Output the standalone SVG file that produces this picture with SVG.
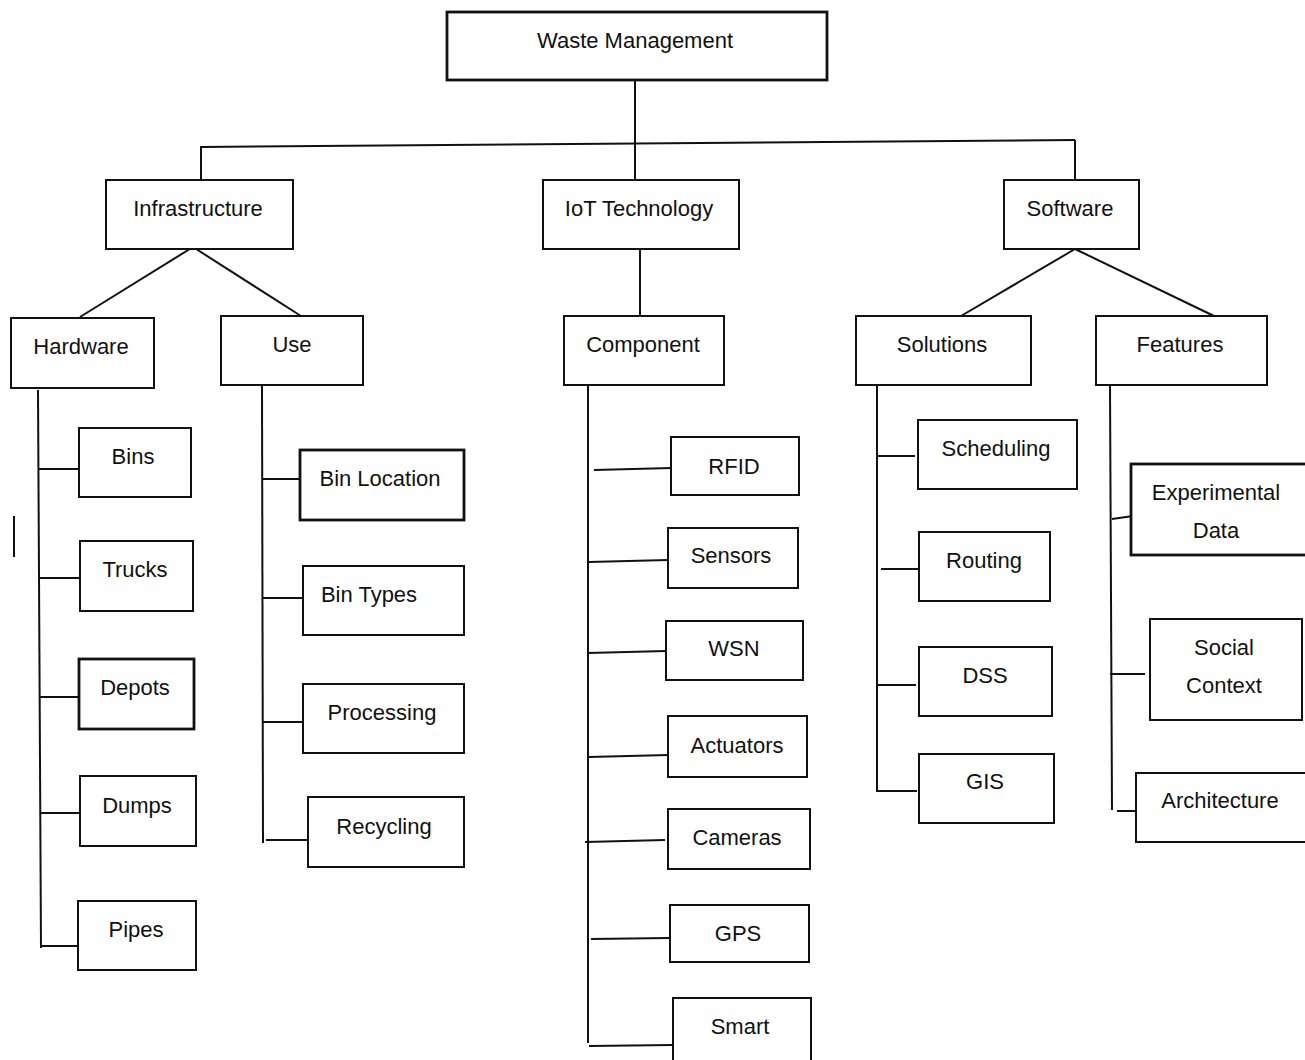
<svg xmlns="http://www.w3.org/2000/svg" width="1305" height="1060" viewBox="0 0 1305 1060">
<style>
.b{fill:#fff;stroke:#111;stroke-width:2}
.bt{fill:#fff;stroke:#111;stroke-width:2.8}
text{font-family:"Liberation Sans",Arial,sans-serif;font-size:22px;fill:#111;text-anchor:middle;dominant-baseline:central}
.c line{stroke:#111;stroke-width:2;fill:none}
</style>
<rect width="1305" height="1060" fill="#fff"/>
<g class="c" id="connectors">
<line x1="635" y1="80" x2="635" y2="145"/>
<line x1="201" y1="147" x2="1075" y2="140"/>
<line x1="201" y1="146" x2="201" y2="180"/>
<line x1="635" y1="145" x2="635" y2="180"/>
<line x1="1075" y1="140" x2="1075" y2="180"/>
<line x1="193" y1="247" x2="80" y2="317"/>
<line x1="193" y1="247" x2="301" y2="316"/>
<line x1="640" y1="249" x2="640" y2="316"/>
<line x1="1075" y1="249" x2="961" y2="316"/>
<line x1="1075" y1="249" x2="1214" y2="316"/>
<line x1="38" y1="390" x2="41" y2="948"/>
<line x1="39" y1="469" x2="79" y2="469"/>
<line x1="39" y1="578" x2="80" y2="578"/>
<line x1="40" y1="697" x2="79" y2="697"/>
<line x1="40" y1="813" x2="80" y2="813"/>
<line x1="41" y1="946" x2="80" y2="946"/>
<line x1="14" y1="516" x2="14" y2="557"/>
<line x1="262" y1="385" x2="263" y2="843"/>
<line x1="262" y1="479" x2="300" y2="479"/>
<line x1="263" y1="598" x2="304" y2="598"/>
<line x1="263" y1="722" x2="303" y2="722"/>
<line x1="266" y1="840" x2="308" y2="840"/>
<line x1="588" y1="385" x2="588" y2="1043"/>
<line x1="594" y1="470" x2="672" y2="468"/>
<line x1="589" y1="562" x2="668" y2="560"/>
<line x1="588" y1="653" x2="666" y2="651"/>
<line x1="589" y1="757" x2="668" y2="755"/>
<line x1="585" y1="842" x2="665" y2="840"/>
<line x1="591" y1="939" x2="670" y2="938"/>
<line x1="589" y1="1046" x2="672" y2="1045"/>
<line x1="877" y1="385" x2="877" y2="792"/>
<line x1="877" y1="456" x2="915" y2="456"/>
<line x1="881" y1="569" x2="919" y2="569"/>
<line x1="877" y1="685" x2="916" y2="685"/>
<line x1="877" y1="791" x2="917" y2="791"/>
<line x1="1110" y1="385" x2="1112" y2="810"/>
<line x1="1112" y1="519" x2="1133" y2="516"/>
<line x1="1110" y1="674" x2="1145" y2="674"/>
<line x1="1117" y1="811" x2="1136" y2="811"/>
</g>
<g id="n-root"><rect class="bt" x="447" y="12" width="380" height="68"/><text x="635" y="40">Waste Management</text></g>
<g id="n-infra"><rect class="b" x="106" y="180" width="187" height="69"/><text x="198" y="208">Infrastructure</text></g>
<g id="n-iot"><rect class="b" x="543" y="180" width="196" height="69"/><text x="639" y="208">IoT Technology</text></g>
<g id="n-software"><rect class="b" x="1004" y="180" width="135" height="69"/><text x="1070" y="208">Software</text></g>
<g id="n-hardware"><rect class="b" x="11" y="318" width="143" height="70"/><text x="81" y="346">Hardware</text></g>
<g id="n-use"><rect class="b" x="221" y="316" width="142" height="69"/><text x="292" y="344">Use</text></g>
<g id="n-component"><rect class="b" x="564" y="316" width="160" height="69"/><text x="643" y="344">Component</text></g>
<g id="n-solutions"><rect class="b" x="856" y="316" width="175" height="69"/><text x="942" y="344">Solutions</text></g>
<g id="n-features"><rect class="b" x="1096" y="316" width="171" height="69"/><text x="1180" y="344">Features</text></g>
<g id="n-bins"><rect class="b" x="79" y="428" width="112" height="69"/><text x="133" y="456">Bins</text></g>
<g id="n-trucks"><rect class="b" x="80" y="541" width="113" height="70"/><text x="135" y="569">Trucks</text></g>
<g id="n-depots"><rect class="bt" x="79" y="659" width="115" height="70"/><text x="135" y="687">Depots</text></g>
<g id="n-dumps"><rect class="b" x="80" y="776" width="116" height="70"/><text x="137" y="805">Dumps</text></g>
<g id="n-pipes"><rect class="b" x="78" y="901" width="118" height="69"/><text x="136" y="929">Pipes</text></g>
<g id="n-binloc"><rect class="bt" x="300" y="450" width="164" height="70"/><text x="380" y="478">Bin Location</text></g>
<g id="n-bintypes"><rect class="b" x="303" y="566" width="161" height="69"/><text x="369" y="594">Bin Types</text></g>
<g id="n-processing"><rect class="b" x="303" y="684" width="161" height="69"/><text x="382" y="712">Processing</text></g>
<g id="n-recycling"><rect class="b" x="308" y="797" width="156" height="70"/><text x="384" y="826">Recycling</text></g>
<g id="n-rfid"><rect class="b" x="671" y="437" width="128" height="58"/><text x="734" y="466">RFID</text></g>
<g id="n-sensors"><rect class="b" x="668" y="528" width="130" height="60"/><text x="731" y="555">Sensors</text></g>
<g id="n-wsn"><rect class="b" x="666" y="621" width="137" height="59"/><text x="734" y="648">WSN</text></g>
<g id="n-actuators"><rect class="b" x="668" y="716" width="139" height="61"/><text x="737" y="745">Actuators</text></g>
<g id="n-cameras"><rect class="b" x="668" y="809" width="142" height="60"/><text x="737" y="837">Cameras</text></g>
<g id="n-gps"><rect class="b" x="670" y="905" width="139" height="57"/><text x="738" y="933">GPS</text></g>
<g id="n-smart"><rect class="b" x="673" y="998" width="138" height="66"/><text x="740" y="1026">Smart</text></g>
<g id="n-scheduling"><rect class="b" x="918" y="420" width="159" height="69"/><text x="996" y="448">Scheduling</text></g>
<g id="n-routing"><rect class="b" x="919" y="532" width="131" height="69"/><text x="984" y="560">Routing</text></g>
<g id="n-dss"><rect class="b" x="919" y="647" width="133" height="69"/><text x="985" y="675">DSS</text></g>
<g id="n-gis"><rect class="b" x="919" y="754" width="135" height="69"/><text x="985" y="781">GIS</text></g>
<g id="n-expdata"><rect class="bt" x="1131" y="464" width="176" height="91"/><text x="1216" y="492">Experimental</text><text x="1216" y="530">Data</text></g>
<g id="n-social"><rect class="b" x="1150" y="619" width="152" height="101"/><text x="1224" y="647">Social</text><text x="1224" y="685">Context</text></g>
<g id="n-arch"><rect class="b" x="1136" y="773" width="171" height="69"/><text x="1220" y="800">Architecture</text></g>
</svg>
